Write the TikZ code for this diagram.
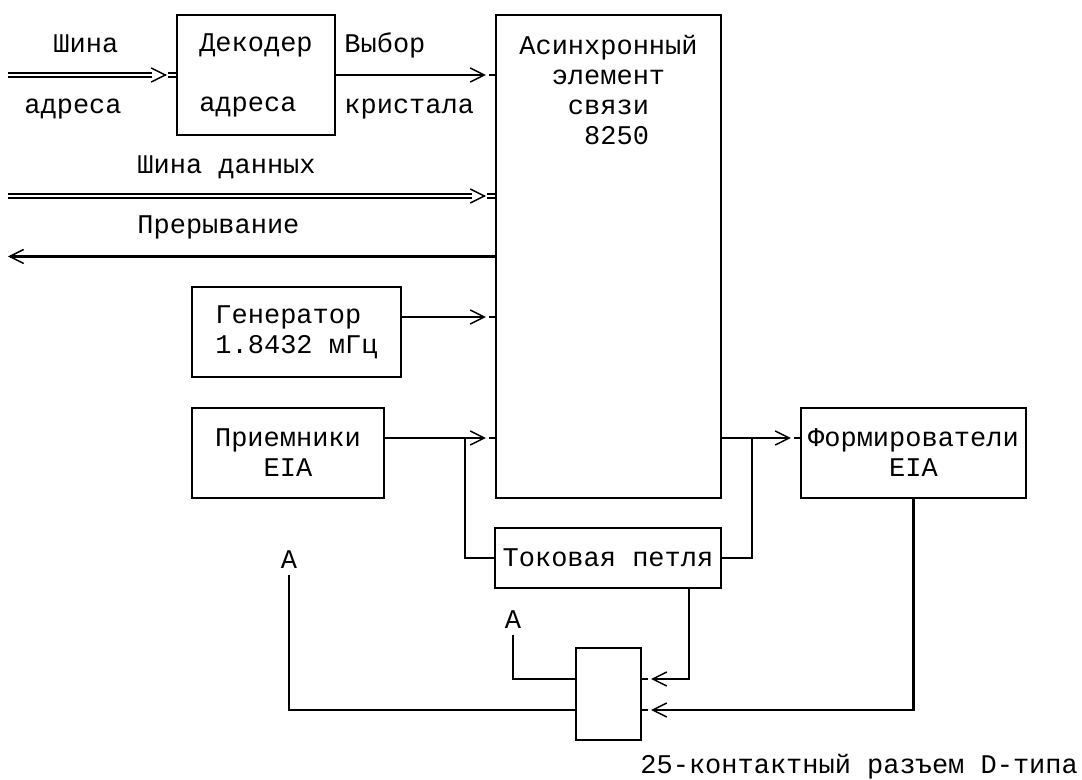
\documentclass[tikz,border=0pt]{standalone}
\usepackage{fontspec}
\setmonofont{Liberation Mono}
\usetikzlibrary{arrows.meta,calc,positioning}
\tikzstyle{blk} = [draw, line width=1.1pt, inner sep=0pt, align=center]
\tikzstyle{wire} = [line width=1.1pt]
\tikzstyle{bus} = [line width=0.9pt, double, double distance=1.4pt]
\tikzstyle{lbl} = [inner sep=0pt, anchor=base west]
\tikzstyle{pin} = [inner sep=3pt]

\begin{document}
\begin{tikzpicture}[x=0.5pt, y=-0.5pt,
  font=\fontsize{13.5pt}{15pt}\selectfont\ttfamily,
  >={Straight Barb[length=7pt, width=7pt, line width=0.75pt]}]
  \useasboundingbox (0,0) rectangle (1082,780);
  % blocks
  \node[blk, minimum width=79pt, minimum height=60pt, align=left] (dec) at (256,75) {Декодер\\[15pt]адреса};
  \node[blk, minimum width=112.5pt, minimum height=241.5pt] (asc) at (608.5,256.5) {};
  \node[anchor=base, align=center, inner sep=0pt] (asctxt) at (608.5,145) {Асинхронный\\элемент\\связи\\\hphantom{0}8250};
  \node[blk, minimum width=104.5pt, minimum height=45pt, align=left] (gen) at (296.5,332) {Генератор\\1.8432 мГц};
  \node[blk, minimum width=96pt, minimum height=45pt] (rcv) at (288,453) {Приемники\\EIA};
  \node[blk, minimum width=112.5pt, minimum height=45pt] (form) at (913.5,453) {Формирователи\\EIA};
  \node[blk, minimum width=113pt, minimum height=30pt] (loop) at (608,558) {Токовая петля};
  \node[blk, minimum width=32.5pt, minimum height=46pt] (conn) at (608.5,694) {};
  \node[pin] (a1) at (289,560) {A};
  \node[pin] (a2) at (513,620) {A};
  % labels
  \node[lbl] (busname) at (53,53) {Шина};
  \node[lbl] (busaddr) at (24,114) {адреса};
  \node[lbl] (selname) at (344,53) {Выбор};
  \node[lbl] (selchip) at (344,114) {кристала};
  \node[lbl] (dataname) at (137,174) {Шина данных};
  \node[lbl] (irqname) at (137,234) {Прерывание};
  \node[lbl] (plugname) at (640,773) {25-контактный разъем D-типа};
  \coordinate (abus) at (8,75);
  \coordinate (dbus) at (8,196);
  \coordinate (irq) at (8,256.5);
  % address bus
  \draw[bus] (abus) -- ($(dec.west)+(-24,0)$);
  \draw[wire,->] ($(dec.west)+(-10,0)$) -- ++(1,0);
  \draw[bus] (dec.west) -- ++(-8,0);
  % chip select
  \draw[wire,->,shorten >=4.5pt] (dec.east) -- (asc.west |- dec.east);
  \draw[wire] (asc.west |- dec.east) -- ++(-6,0);
  % data bus
  \draw[bus] (dbus) -- ($(asc.west |- dbus)+(-23,0)$);
  \draw[wire,->] ($(asc.west |- dbus)+(-10,0)$) -- ++(1,0);
  \draw[bus] (asc.west |- dbus) -- ++(-8,0);
  % interrupt
  \draw[wire,->] (asc.west) -- (irq);
  % generator
  \draw[wire,->,shorten >=4.5pt] (gen.east |- 0,317) -- (asc.west |- 0,317);
  \draw[wire] (asc.west |- 0,317) -- ++(-6,0);
  % receivers
  \draw[wire,->,shorten >=4.5pt] (rcv.east |- 0,438) -- (asc.west |- 0,438);
  \draw[wire] (asc.west |- 0,438) -- ++(-6,0);
  \coordinate (rj) at (465,438);
  \draw[wire] (rj) |- (loop.west);
  % drivers
  \draw[wire,->,shorten >=4.5pt] (asc.east |- 0,438) -- (form.west |- 0,438);
  \draw[wire] (form.west |- 0,438) -- ++(-6,0);
  \coordinate (tj) at (752,438);
  \draw[wire] (tj) |- (loop.east);
  % connector
  \draw[wire,->,shorten >=4.5pt] (loop.south -| 689,0) |- (conn.east |- 0,679);
  \draw[wire] (conn.east |- 0,679) -- ++(6,0);
  \draw[wire,->,shorten >=4.5pt] (form.south) |- (conn.east |- 0,710);
  \draw[wire] (conn.east |- 0,710) -- ++(6,0);
  \draw[wire] (a1) |- (conn.west |- 0,710);
  \draw[wire] (a2) |- (conn.west |- 0,679);
\end{tikzpicture}
\end{document}
